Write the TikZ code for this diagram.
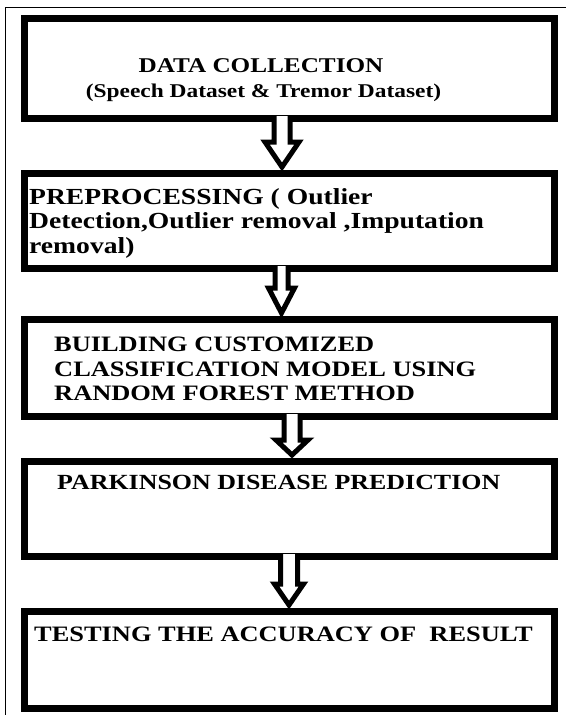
\documentclass[tikz,border=0pt]{standalone}
\usepackage{fontspec}
\newfontfamily\boxfont[FakeStretch=1.2]{Liberation Serif}
\usetikzlibrary{calc}

\newcommand{\stagefont}[1]{\boxfont\bfseries\fontsize{#1}{24.5}\selectfont}
\tikzset{
  stagebox/.style={draw,line width=7pt,fill=white,minimum width=530pt,inner sep=0pt},
  stagetext/.style={inner sep=0pt,font=\stagefont{22}},
  arrowline/.style={draw,line width=5pt,fill=white,line join=miter},
}
% from, to, x shift, stem half width, head half width, head length
\newcommand{\hollowarrow}[6]{%
\draw[arrowline] ($(#1.south)+(#3-#4,-6)$) -- ($(#2.north)+(#3-#4,-#6)$)
  -- ($(#2.north)+(#3-#5,-#6)$) -- ($(#2.north)+(#3,-3)$)
  -- ($(#2.north)+(#3+#5,-#6)$) -- ($(#2.north)+(#3+#4,-#6)$)
  -- ($(#1.south)+(#3+#4,-6)$);
}

\begin{document}
\begin{tikzpicture}[x=1pt,y=-1pt]
\useasboundingbox (0,0) rectangle (566,715);
\draw[line width=1.5pt] (5.5,715) -- (5.5,7.5) -- (566,7.5);

\node[stagebox,minimum height=100pt] (collect) at (289.5,68.5) {};
\node[stagebox,minimum height=95pt] (prep) at (289.5,221) {};
\node[stagebox,minimum height=97pt] (model) at (289.5,368) {};
\node[stagebox,minimum height=95pt] (predict) at (289.5,509) {};
\node[stagebox,minimum height=97pt] (test) at (289.5,660) {};

\hollowarrow{collect}{prep}{-7.5}{8}{17}{28}
\hollowarrow{prep}{model}{-8}{6.5}{13}{28}
\hollowarrow{model}{predict}{2.5}{8}{16}{18}
\hollowarrow{predict}{test}{-0.5}{8.5}{14.5}{24}

\node[stagetext,anchor=base,font=\stagefont{21}] (collecttxt) at (261,72)
  {DATA COLLECTION};
\node[stagetext,anchor=base,font=\stagefont{19.5}] (collectsub) at (263.5,97)
  {(Speech Dataset \& Tremor Dataset)};
\node[stagetext,align=left,anchor=north west,font=\stagefont{23}] (preptxt) at (29,188)
  {PREPROCESSING ( Outlier\\Detection,Outlier removal ,Imputation\\removal)};
\node[stagetext,align=left,anchor=north west] (modeltxt) at (54,337)
  {BUILDING CUSTOMIZED\\CLASSIFICATION MODEL USING\\RANDOM FOREST METHOD};
\node[stagetext,anchor=north west,font=\stagefont{21.6}] (predicttxt) at (57,475)
  {PARKINSON DISEASE PREDICTION};
\node[stagetext,anchor=north west] (testtxt) at (34,627)
  {TESTING THE ACCURACY OF~ RESULT};
\end{tikzpicture}
\end{document}
